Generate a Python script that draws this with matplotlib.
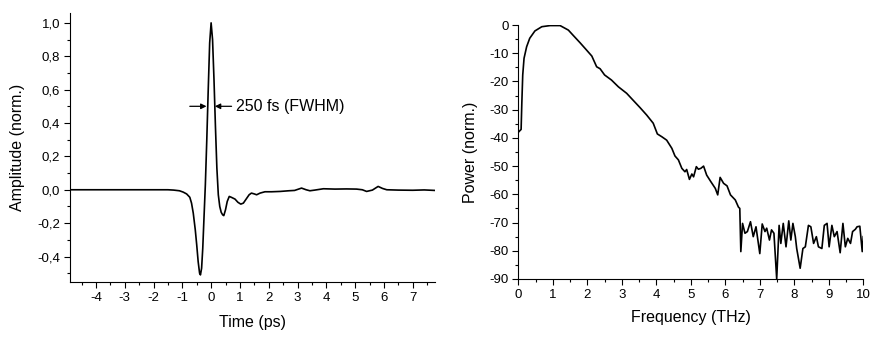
import matplotlib
matplotlib.use("Agg")
import matplotlib.pyplot as plt
from matplotlib.ticker import MultipleLocator

plt.rcParams['font.family'] = ['Liberation Sans', 'DejaVu Sans']

# time domain pulse (ps, normalised amplitude)
time_ps = [-4.9, -4.0, -3.0, -2.0, -1.5, -1.3, -1.1, -0.97, -0.85, -0.74, -0.68,
           -0.62, -0.55, -0.5, -0.45, -0.4, -0.37, -0.33, -0.29, -0.25, -0.2,
           -0.15, -0.1, -0.05, 0.0, 0.05, 0.1, 0.15, 0.2, 0.25, 0.3, 0.35, 0.4,
           0.44, 0.5, 0.56, 0.63, 0.7, 0.76, 0.83, 0.93, 1.03, 1.12, 1.22, 1.32,
           1.4, 1.5, 1.58, 1.7, 1.87, 2.1, 2.4, 2.7, 2.9, 3.14, 3.3, 3.43, 3.6,
           3.9, 4.3, 4.7, 5.05, 5.25, 5.4, 5.6, 5.8, 5.95, 6.1, 6.5, 7.0, 7.4, 7.77]
amplitude = [0, 0, 0, 0, 0, -0.002, -0.006, -0.014, -0.025, -0.045, -0.08,
             -0.14, -0.24, -0.33, -0.43, -0.5, -0.51, -0.47, -0.35, -0.18, 0.03,
             0.3, 0.6, 0.88, 1.0, 0.9, 0.66, 0.38, 0.13, -0.03, -0.1, -0.135, -0.15,
             -0.155, -0.12, -0.07, -0.04, -0.045, -0.05, -0.056, -0.075, -0.086, -0.08,
             -0.055, -0.03, -0.02, -0.025, -0.03, -0.02, -0.012, -0.012, -0.01, -0.006,
             -0.004, 0.01, 0.0, -0.006, -0.002, 0.006, 0.004, 0.005, 0.004, 0.0,
             -0.01, -0.002, 0.02, 0.008, 0.0, -0.002, -0.003, -0.001, -0.004]

# power spectrum (THz, dB normalised)
freq_thz = [0.0, 0.04, 0.08, 0.1, 0.127, 0.165, 0.24, 0.33, 0.48, 0.68, 0.92,
            1.21, 1.45, 1.6, 1.79, 1.95, 2.13, 2.27, 2.37, 2.5, 2.7, 2.9, 3.14,
            3.3, 3.53, 3.72, 3.91, 4.03, 4.16, 4.3, 4.45, 4.54, 4.64, 4.74, 4.83,
            4.88, 4.96, 5.03, 5.08, 5.16, 5.22, 5.29, 5.37, 5.46, 5.58, 5.71, 5.78,
            5.85, 5.95, 6.05, 6.15, 6.29, 6.38, 6.42,
            6.45, 6.5, 6.57, 6.64, 6.73, 6.81, 6.89, 7.0, 7.07, 7.15, 7.2, 7.28,
            7.34, 7.41, 7.49, 7.56, 7.61, 7.68, 7.76, 7.84, 7.9, 7.96, 8.03, 8.07,
            8.17, 8.25, 8.32, 8.41, 8.48, 8.56, 8.64, 8.7, 8.8, 8.87, 8.95, 9.01,
            9.09, 9.16, 9.24, 9.33, 9.41, 9.48, 9.55, 9.63, 9.69, 9.77, 9.82, 9.9,
            9.97, 10.0]
power_db = [-38, -37.5, -37, -28, -17.7, -11.8, -7.7, -4.7, -2.1, -0.6, -0.2,
            -0.2, -1.8, -3.8, -6.3, -8.5, -11, -14.8, -15.5, -17.7, -19.5, -21.9, -24.2,
            -26.3, -29.3, -31.9, -34.8, -38.6, -39.6, -40.8, -43.7, -46.4, -47.8, -50.8, -52,
            -51.2, -54.7, -52.8, -53.8, -50.2, -51.1, -50.8, -50, -53.2, -55.5, -57.9, -60.2,
            -54, -56.1, -57, -60.2, -62, -64.5, -65,
            -80.3, -70.3, -73.8, -73.2, -69.7, -75, -71.5, -81, -70.5, -73.2, -72, -76.2,
            -72.6, -73.8, -90, -71, -77.4, -70.3, -78.6, -69.4, -76.2, -70.3, -75, -79.2,
            -86.2, -79.2, -78.6, -71, -71.5, -77.4, -75, -78.6, -79.2, -71, -70.3, -78.6,
            -71, -75, -73.2, -80.7, -70.3, -78.6, -75.6, -77.4, -73.2, -72.4, -71.5, -71.3,
            -80.3, -75]

amp_ticks = [-0.4, -0.2, 0.0, 0.2, 0.4, 0.6, 0.8, 1.0]
amp_labels = ['-0,4', '-0,2', '0,0', '0,2', '0,4', '0,6', '0,8', '1,0']
time_ticks = [-4, -3, -2, -1, 0, 1, 2, 3, 4, 5, 6, 7]

fig = plt.figure(figsize=(8.75, 3.38), dpi=100)
ax1 = fig.add_axes([0.08, 0.166, 0.417, 0.796])
ax2 = fig.add_axes([0.5924, 0.1746, 0.3942, 0.7514])

for ax in (ax1, ax2):
    ax.spines['top'].set_visible(False)
    ax.spines['right'].set_visible(False)
    ax.tick_params(which='both', direction='out', labelsize=9.5, pad=3)
    ax.tick_params(which='major', length=4, width=0.8)
    ax.tick_params(which='minor', length=2.5, width=0.8)

ax1.plot(time_ps, amplitude, color='black', lw=1.2)
ax1.set_xlim(-4.9, 7.77)
ax1.set_ylim(-0.552, 1.06)
ax1.set_xticks(time_ticks)
ax1.set_xticklabels([str(t) for t in time_ticks])
ax1.xaxis.set_minor_locator(MultipleLocator(0.5))
ax1.set_yticks(amp_ticks)
ax1.set_yticklabels(amp_labels)
ax1.yaxis.set_minor_locator(MultipleLocator(0.1))
ax1.set_xlabel('Time (ps)', fontsize=11.5, labelpad=8)
ax1.set_ylabel('Amplitude (norm.)', fontsize=11.5, labelpad=9)

arrow = dict(arrowstyle='-|>', color='black', lw=0.9, mutation_scale=8,
             shrinkA=0, shrinkB=0)
ax1.annotate('', xy=(-0.16, 0.5), xytext=(-0.74, 0.5), arrowprops=arrow)
ax1.annotate('', xy=(0.13, 0.5), xytext=(0.71, 0.5), arrowprops=arrow)
ax1.text(0.86, 0.5, '250 fs (FWHM)', fontsize=11.5, va='center', ha='left')

ax2.plot(freq_thz, power_db, color='black', lw=1.2)
ax2.set_xlim(0, 10)
ax2.set_ylim(-90, 0)
ax2.set_xticks(range(0, 11))
ax2.xaxis.set_minor_locator(MultipleLocator(0.5))
ax2.set_yticks(range(-90, 1, 10))
ax2.set_yticklabels([str(v) for v in range(-90, 1, 10)])
ax2.yaxis.set_minor_locator(MultipleLocator(5))
ax2.set_xlabel('Frequency (THz)', fontsize=11.5, labelpad=7)
ax2.set_ylabel('Power (norm.)', fontsize=11.5, labelpad=8)

fig.savefig('out.png', dpi=100)
